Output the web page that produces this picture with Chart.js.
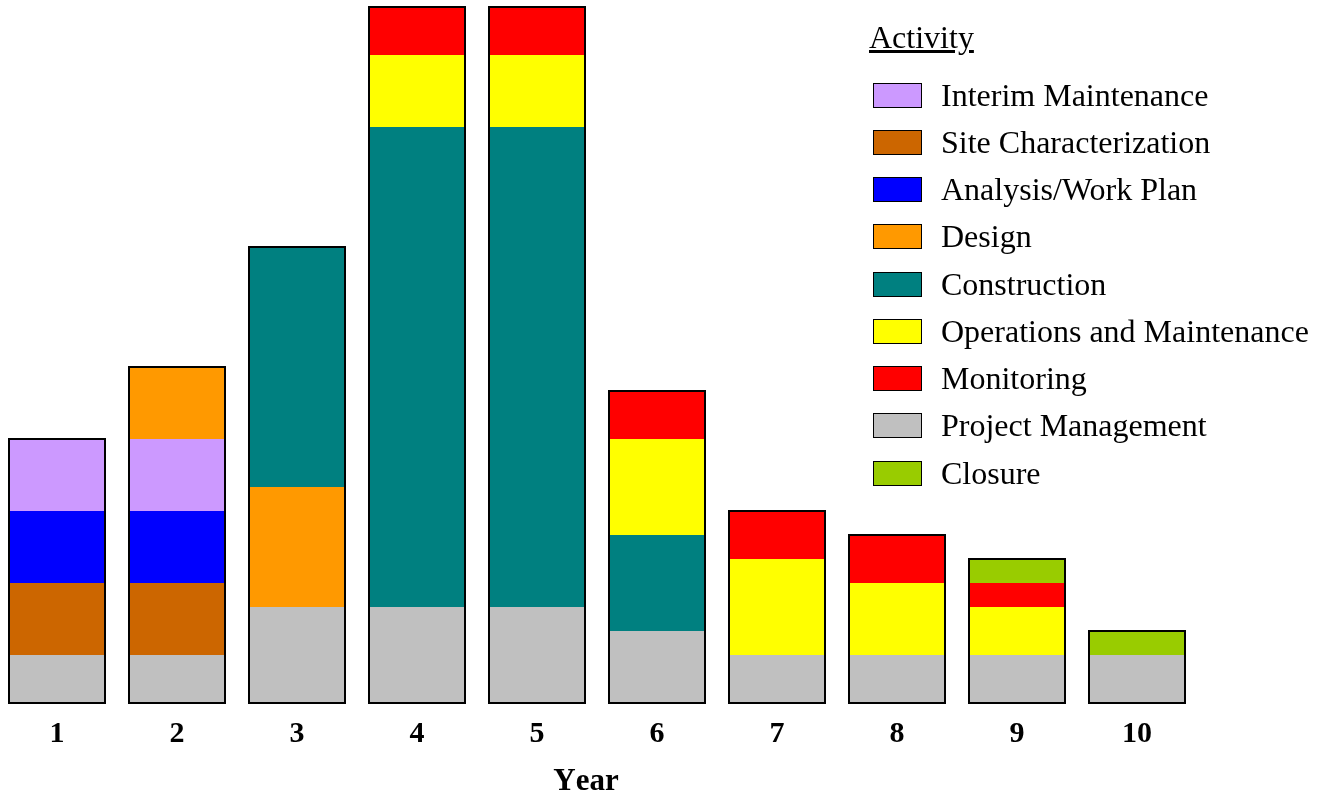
<!DOCTYPE html>
<html>
<head>
<meta charset="utf-8">
<script src="https://cdn.jsdelivr.net/npm/chart.js@4.4.0/dist/chart.umd.min.js"></script>
<style>
    body { margin: 0; background: #fff; width: 1325px; height: 797px; overflow: hidden; position: relative;
           font-family: "Liberation Serif", "Times New Roman", serif; color: #000; }
    #chart-box { position: absolute; left: -3px; top: 0; width: 1328px; height: 797px; }
    #year-title { position: absolute; left: 586px; top: 765px; transform: translateX(-50%);
                  font-weight: bold; font-size: 31px; line-height: 30px; font-kerning: none; }
    #legend { position: absolute; left: 0; top: 0; }
    .legend-title { position: absolute; left: 869px; top: 22px; font-size: 32px; line-height: 31px;
                    text-decoration: underline; white-space: nowrap; }
    .legend-row { position: absolute; left: 873px; height: 31px; white-space: nowrap; }
    .legend-row span.box { position: absolute; left: 0; top: 3px; width: 49px; height: 25px;
                           box-sizing: border-box; border: 1.5px solid #000; }
    .legend-row span.label { position: absolute; left: 68px; top: 0; font-size: 32px; line-height: 31px; }
</style>
</head>
<body>
<div id="chart-box"><canvas id="myChart"></canvas></div>
<div id="year-title">Year</div>
<div id="legend"></div>
<script>
const years = ['1', '2', '3', '4', '5', '6', '7', '8', '9', '10'];

// values per year, stack order bottom -> top
const projectManagement    = [2, 2, 4, 4, 4, 3, 2, 2, 2, 2];
const siteCharacterization = [3, 3, 0, 0, 0, 0, 0, 0, 0, 0];
const analysisWorkPlan     = [3, 3, 0, 0, 0, 0, 0, 0, 0, 0];
const interimMaintenance   = [3, 3, 0, 0, 0, 0, 0, 0, 0, 0];
const design               = [0, 3, 5, 0, 0, 0, 0, 0, 0, 0];
const construction         = [0, 0, 10, 20, 20, 4, 0, 0, 0, 0];
const operations           = [0, 0, 0, 3, 3, 4, 4, 3, 2, 0];
const monitoring           = [0, 0, 0, 2, 2, 2, 2, 2, 1, 0];
const closure              = [0, 0, 0, 0, 0, 0, 0, 0, 1, 1];

const legendOrder = ['Interim Maintenance', 'Site Characterization', 'Analysis/Work Plan', 'Design',
    'Construction', 'Operations and Maintenance', 'Monitoring', 'Project Management', 'Closure'];

const datasets = [
    { label: 'Project Management', data: projectManagement, backgroundColor: '#C0C0C0' },
    { label: 'Site Characterization', data: siteCharacterization, backgroundColor: '#CC6600' },
    { label: 'Analysis/Work Plan', data: analysisWorkPlan, backgroundColor: '#0000FF' },
    { label: 'Interim Maintenance', data: interimMaintenance, backgroundColor: '#CC99FF' },
    { label: 'Design', data: design, backgroundColor: '#FF9900' },
    { label: 'Construction', data: construction, backgroundColor: '#008080' },
    { label: 'Operations and Maintenance', data: operations, backgroundColor: '#FFFF00' },
    { label: 'Monitoring', data: monitoring, backgroundColor: '#FF0000' },
    { label: 'Closure', data: closure, backgroundColor: '#99CC00' }
];
datasets.forEach(ds => {
    ds.borderWidth = 0;
    ds.barPercentage = 0.8;
    ds.categoryPercentage = 1;
});

// black outline drawn round each whole stack
const stackOutline = {
    id: 'stackOutline',
    afterDatasetsDraw(chart) {
        const ctx = chart.ctx;
        const yScale = chart.scales.y;
        const meta = chart.getDatasetMeta(0);
        ctx.save();
        ctx.strokeStyle = '#000';
        ctx.lineWidth = 2;
        meta.data.forEach((bar, i) => {
            let total = 0;
            chart.data.datasets.forEach(ds => total += ds.data[i]);
            const top = yScale.getPixelForValue(total);
            const bottom = yScale.getPixelForValue(0);
            ctx.strokeRect(bar.x - bar.width / 2, top, bar.width, bottom - top);
        });
        ctx.restore();
    }
};

new Chart(document.getElementById('myChart'), {
    type: 'bar',
    data: { labels: years, datasets: datasets },
    plugins: [stackOutline],
    options: {
        responsive: true,
        maintainAspectRatio: false,
        animation: false,
        layout: { padding: { top: 7, right: 128, bottom: 32, left: 0 } },
        plugins: { legend: { display: false }, tooltip: { enabled: false } },
        scales: {
            x: {
                stacked: true,
                grid: { display: false, drawTicks: false },
                border: { display: false },
                ticks: {
                    color: '#000',
                    padding: 13,
                    font: { family: '"Liberation Serif", "Times New Roman", serif', size: 30, weight: 'bold' }
                }
            },
            y: { stacked: true, display: false, min: 0, max: 29 }
        }
    }
});

const legend = document.getElementById('legend');
let html = '<div class="legend-title">Activity</div>';
legendOrder.forEach((name, i) => {
    const ds = datasets.find(d => d.label === name);
    const top = 95 + 47.25 * i - 15.5;
    html += `<div class="legend-row" style="top:${top}px"><span class="box" style="background:${ds.backgroundColor}"></span><span class="label">${name}</span></div>`;
});
legend.innerHTML = html;
</script>
</body>
</html>
